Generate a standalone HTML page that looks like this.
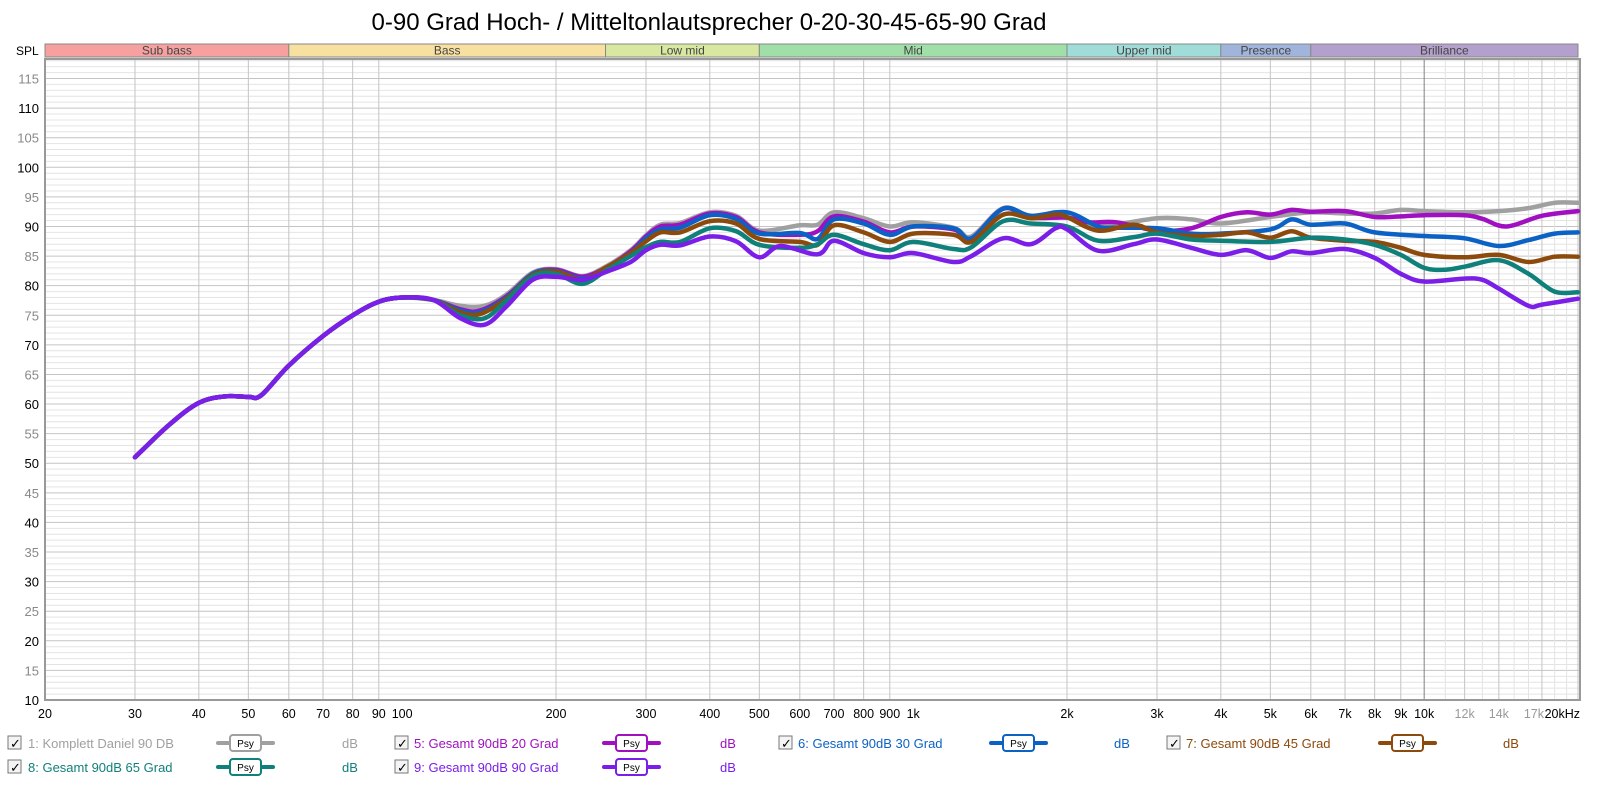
<!DOCTYPE html>
<html><head><meta charset="utf-8"><style>
body{margin:0;background:#fff;width:1600px;height:781px;overflow:hidden;font-family:"Liberation Sans",Arial,sans-serif}
</style></head><body>
<svg id="s" width="1600" height="781" xmlns="http://www.w3.org/2000/svg" font-family="Liberation Sans, Arial, sans-serif"></svg>
<script>
const S=document.getElementById('s');const NS='http://www.w3.org/2000/svg';
function el(t,a,txt){const e=document.createElementNS(NS,t);for(const k in a)e.setAttribute(k,a[k]);if(txt!==undefined)e.textContent=txt;S.appendChild(e);return e;}
const X=f=>45+511*Math.log10(f/20), Y=d=>700-(d-10)*5.919;
const L=45,R=1580,T=59,B=700;
el('text',{x:709,y:30,'font-size':24,'text-anchor':'middle',fill:'#000'},'0-90 Grad Hoch- / Mitteltonlautsprecher 0-20-30-45-65-90 Grad');
el('text',{x:16,y:55,'font-size':12,fill:'#000'},'SPL');
const bands=[[20,60,'#f6a0a0','Sub bass'],[60,250,'#f8e0a0','Bass'],[250,500,'#d8e8a0','Low mid'],[500,2000,'#a0e0a8','Mid'],[2000,4000,'#a0dcd8','Upper mid'],[4000,6000,'#a0b4dc','Presence'],[6000,20000,'#b4a0cc','Brilliance']];
bands.forEach(b=>{const x1=X(b[0]),x2=X(b[1]);el('rect',{x:x1,y:44,width:x2-x1,height:13,fill:b[2],stroke:'#888','stroke-width':1});el('text',{x:(x1+x2)/2,y:54.5,'font-size':12,'text-anchor':'middle',fill:'#444'},b[3]);});
el('rect',{x:L,y:T,width:R-L,height:B-T,fill:'#fff'});
for(let d=10;d<=118;d++){const y=Y(d);if(y<T)continue;el('line',{x1:L,x2:R,y1:y,y2:y,stroke:d%5==0?'#c4c4c4':'#e4e4e4','stroke-width':1});}
const fr=[];for(const m of [10,100,1000]){for(let i=2;i<=9;i++)fr.push(i*m);}fr.push(10000,12000,14000,17000,20000);
const fine=[11000,13000,15000,16000,18000,19000];
fine.forEach(f=>el('line',{x1:X(f),x2:X(f),y1:T,y2:B,stroke:'#e4e4e4'}));
fr.forEach(f=>{const dark=(f==100||f==1000||f==10000);el('line',{x1:X(f),x2:X(f),y1:T,y2:B,stroke:dark?'#808080':'#c4c4c4'});});
el('rect',{x:L,y:T,width:R-L,height:B-T,fill:'none',stroke:'#999','stroke-width':2});
for(let d=10;d<=115;d+=5){el('text',{x:39,y:Y(d)+5,'font-size':13,'text-anchor':'end',fill:d%10==0?'#000':'#888'},d);}
const xl=[[20,'20'],[30,'30'],[40,'40'],[50,'50'],[60,'60'],[70,'70'],[80,'80'],[90,'90'],[100,'100'],[200,'200'],[300,'300'],[400,'400'],[500,'500'],[600,'600'],[700,'700'],[800,'800'],[900,'900'],[1000,'1k'],[2000,'2k'],[3000,'3k'],[4000,'4k'],[5000,'5k'],[6000,'6k'],[7000,'7k'],[8000,'8k'],[9000,'9k'],[10000,'10k'],[12000,'12k',1],[14000,'14k',1],[17000,'17k',1]];
xl.forEach(a=>el('text',{x:a[0]==17000?X(a[0])-8:X(a[0]),y:718,'font-size':12.5,'text-anchor':'middle',fill:a[2]?'#999':'#000'},a[1]));
el('text',{x:1580,y:718,'font-size':12.5,'text-anchor':'end',fill:'#000'},'20kHz');
const low=[[30,51],[35,56.5],[40,60.2],[45,61.3],[50,61.2],[53,61.5],[60,66.5],[70,71.5],[80,75],[90,77.3],[100,78],[115,77.6]];
function mk(mid,rest){return low.concat(mid,rest);}
const C={
gray:mk([[130,76.6],[145,76.6],[160,78.5],[180,82.2],[200,82.8],[225,81.6],[250,83.2],[280,86]],[[300,88.5],[320,90.3],[350,90.6],[400,92.4],[450,91.8],[500,89.3],[600,90.2],[650,90.3],[700,92.4],[800,91.4],[900,90],[1000,90.7],[1200,89.8],[1300,88.3],[1500,93.1],[1700,91.6],[1900,92.4],[2000,91.6],[2300,90],[3000,91.4],[3500,91.2],[4000,90.5],[5000,91.6],[6000,92.4],[7000,92.2],[8000,92.2],[9000,92.8],[10000,92.6],[12000,92.4],[14000,92.6],[16000,93.1],[18000,94],[20000,94]]),
mag:mk([[130,76],[142,75.8],[160,78.2],[180,82],[200,82.7],[225,81.5],[250,83],[280,85.8]],[[300,88.3],[320,90],[350,90.3],[400,92.2],[450,91.6],[500,89],[600,88.6],[650,89.2],[700,91.7],[800,90.8],[900,89],[1000,90],[1200,89.5],[1300,88],[1500,93],[1700,91.5],[2000,91.5],[2200,90.7],[2500,90.7],[3000,89.3],[3500,89.7],[4000,91.6],[4500,92.4],[5000,92],[5500,92.8],[6000,92.5],[7000,92.6],[8000,91.6],[9000,91.7],[10000,91.9],[12000,91.9],[13000,91.3],[14500,90],[17000,91.8],[20000,92.6]]),
blue:mk([[130,75.8],[142,75.5],[160,78],[180,82],[200,82.5],[225,81.2],[250,82.8],[280,85.5]],[[300,88],[320,89.5],[350,89.8],[400,91.9],[450,91.3],[500,88.8],[600,88.9],[650,87.9],[700,91.2],[800,90.5],[900,88.6],[1000,90],[1200,89.7],[1300,88],[1500,93],[1700,91.8],[2000,92.4],[2300,90],[2500,89.8],[3000,89.7],[3500,88.8],[4000,88.8],[5000,89.5],[5500,91.2],[6000,90.3],[7000,90.5],[8000,89],[10000,88.4],[12000,88],[14000,86.7],[16000,87.7],[18000,88.8],[20000,89]]),
brown:mk([[130,75.5],[142,75.2],[160,77.8],[180,81.8],[200,82.4],[225,81],[250,83],[280,85.5]],[[300,87.5],[320,89],[350,89],[400,90.9],[450,90.5],[500,87.9],[600,87.4],[650,86.9],[700,90.2],[800,89],[900,87.4],[1000,88.8],[1200,88.6],[1300,87.4],[1500,92],[1700,91.4],[1900,92],[2000,91.6],[2300,89.3],[2700,90.3],[3000,89],[3500,88.4],[4000,88.6],[4500,89],[5000,88.1],[5500,89.2],[6000,88.1],[7000,87.6],[8000,87.4],[9000,86.4],[10000,85.2],[12000,84.8],[14000,85.2],[16000,84],[18000,84.9],[20000,84.9]]),
teal:mk([[130,75],[145,74.5],[160,77.5],[180,81.6],[200,82],[225,80.3],[250,82.5],[280,85]],[[300,86.5],[320,87.4],[350,87.4],[400,89.7],[450,89.2],[500,86.9],[600,86.4],[650,87],[700,88.6],[800,87],[900,86],[1000,87.4],[1200,86.2],[1300,86.5],[1500,90.9],[1700,90.5],[2000,90],[2300,87.6],[2700,88.2],[3000,88.8],[3500,87.8],[4000,87.6],[5000,87.4],[6000,88.1],[7000,87.8],[8000,86.9],[9000,85.2],[10000,83],[11000,82.7],[12000,83.2],[14000,84.3],[16000,82],[18000,79],[20000,78.9]]),
vio:mk([[130,74.5],[145,73.4],[160,76.5],[180,81],[200,81.5],[225,81],[250,82.3],[280,84]],[[300,86],[320,86.9],[350,86.8],[400,88.3],[450,87.5],[500,84.8],[550,86.7],[650,85.3],[700,87.6],[800,85.5],[900,84.8],[1000,85.5],[1200,84],[1300,85],[1500,88],[1700,87],[1900,89.7],[2000,89.5],[2300,85.9],[2700,87],[3000,87.8],[3500,86.4],[4000,85.2],[4500,86],[5000,84.7],[5500,85.8],[6000,85.5],[7000,86.2],[8000,84.7],[9000,82],[10000,80.7],[12000,81.2],[13000,81],[14000,79.5],[16000,76.6],[17000,76.8],[20000,77.8]])};
const cols={gray:'#a0a0a0',mag:'#a010c0',blue:'#0b62c4',brown:'#8c4a0c',teal:'#10807a',vio:'#7a1ee8'};
function path(pts){const p=pts.map(a=>[X(a[0]),Y(a[1])]);let d='M'+p[0][0].toFixed(1)+','+p[0][1].toFixed(1);
for(let i=0;i<p.length-1;i++){const p0=p[i-1]||p[i],p1=p[i],p2=p[i+1],p3=p[i+2]||p2;
const c1=[p1[0]+(p2[0]-p0[0])/6,p1[1]+(p2[1]-p0[1])/6],c2=[p2[0]-(p3[0]-p1[0])/6,p2[1]-(p3[1]-p1[1])/6];
d+=' C'+c1.map(v=>v.toFixed(1))+' '+c2.map(v=>v.toFixed(1))+' '+p2.map(v=>v.toFixed(1));}return d;}
['gray','mag','blue','brown','teal','vio'].forEach(k=>el('path',{d:path(C[k]),fill:'none',stroke:cols[k],'stroke-width':4.5,'stroke-linejoin':'round','stroke-linecap':'round'}));
const leg=[[8,743,'1: Komplett  Daniel 90 DB','gray',28,218,350],[395,743,'5: Gesamt 90dB 20 Grad','mag',414,604,728],[779,743,'6: Gesamt 90dB 30 Grad','blue',798,991,1122],[1167,743,'7: Gesamt 90dB 45 Grad','brown',1186,1380,1511],[8,767,'8: Gesamt 90dB 65 Grad','teal',28,218,350],[395,767,'9: Gesamt 90dB 90 Grad','vio',414,604,728]];
leg.forEach(l=>{const [cx,y,t,k,tx,px,dx]=l,c=cols[k];
el('rect',{x:cx,y:y-7,width:13,height:13,fill:'#f4f4f4',stroke:'#777'});
el('text',{x:cx+2,y:y+5,'font-size':13,fill:'#000'},'✓');
el('text',{x:tx,y:y+5,'font-size':13,fill:c},t);
el('line',{x1:px,x2:px+55,y1:y,y2:y,stroke:c,'stroke-width':4,'stroke-linecap':'round'});
el('rect',{x:px+12,y:y-8,width:31,height:16,rx:3,fill:'#fff',stroke:c,'stroke-width':2});
el('text',{x:px+27.5,y:y+4,'font-size':10,'text-anchor':'middle',fill:'#000'},'Psy');
el('text',{x:dx,y:y+5,'font-size':13,'text-anchor':'middle',fill:c},'dB');});
</script>
</body></html>
